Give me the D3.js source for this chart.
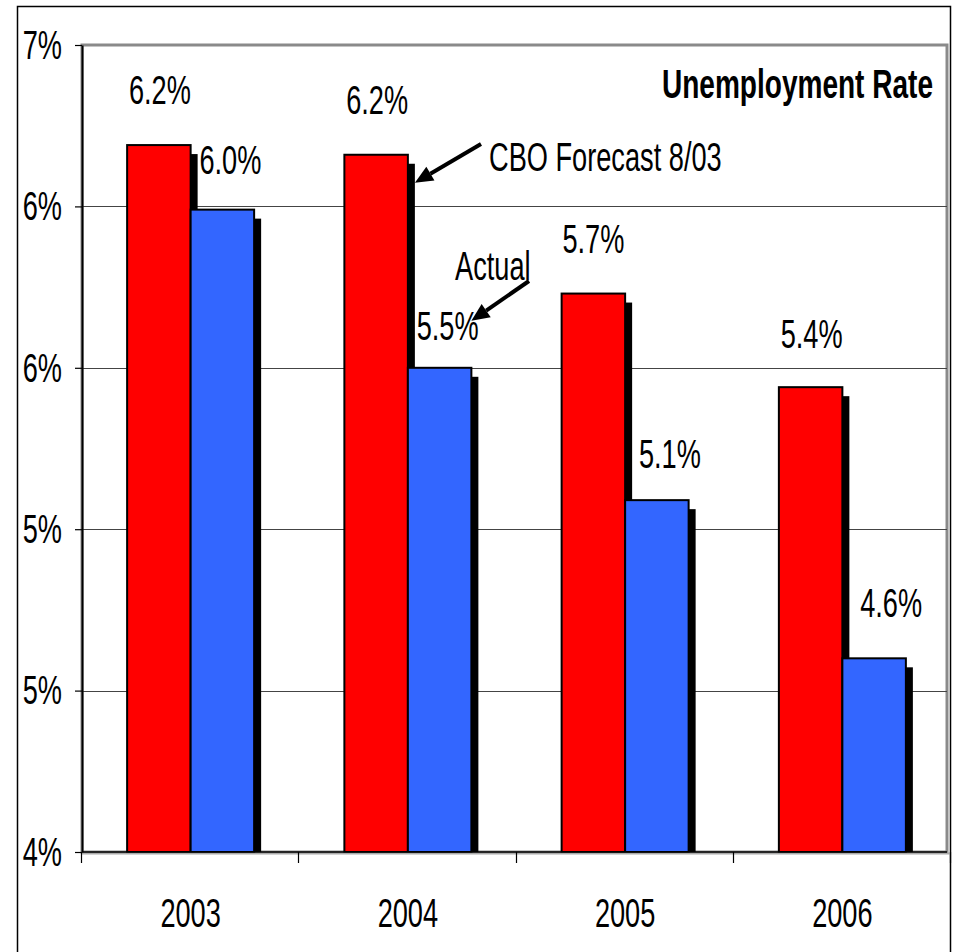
<!DOCTYPE html>
<html>
<head>
<meta charset="utf-8">
<script src="https://cdn.jsdelivr.net/npm/d3@7"></script>
<style>
  html, body { margin: 0; padding: 0; background: #fff; }
  svg { display: block; }
  text { font-family: "Liberation Sans", Arial, sans-serif; fill: #000; }
</style>
</head>
<body>
<svg id="chart" width="954" height="952"></svg>
<script>
// Unemployment rate: CBO forecast (Aug 2003) vs. actual
const years = ["2003", "2004", "2005", "2006"];
const seriesNames = ["CBO Forecast 8/03", "Actual"];
const forecast = [6.19, 6.16, 5.73, 5.44];
const actual = [5.99, 5.50, 5.09, 4.60];
const yTicks = [4, 4.5, 5, 5.5, 6, 6.5];
const yTickLabels = ["4%", "5%", "5%", "6%", "6%", "7%"];
const chartTitle = "Unemployment Rate";

// ---- layout ----
const W = 954, H = 952;
const plot = { left: 82, right: 951, top: 45, bottom: 852 };
const squeeze = 0.68;            // narrow type
const fontSize = 40;
const colors = { "CBO Forecast 8/03": "#ff0000", "Actual": "#3366ff" };
const shadow = { dx: 7, dy: 9 };
// value label offsets from bar centre/top
const labelNudge = {
  "CBO Forecast 8/03": [[1, -41], [1, -41], [0, -41], [1, -39]],
  "Actual": [[8, -36], [8, -28], [13, -32], [17, -41]]
};

const rows = years.map((y, i) => ({ year: y, values: [
  { key: seriesNames[0], value: forecast[i], i },
  { key: seriesNames[1], value: actual[i], i }
]}));

const svg = d3.select("#chart");

const x0 = d3.scaleBand().domain(years)
  .range([plot.left, plot.right])
  .paddingInner(0.4154).paddingOuter(0.2077);
const x1 = d3.scaleBand().domain(seriesNames).range([0, x0.bandwidth()]);
const y = d3.scaleLinear().domain([4, 6.5]).range([plot.bottom, plot.top]);

function ctext(parent, x, yy, str, anchor, opts = {}) {
  return parent.append("text")
    .attr("transform", `translate(${x},${yy}) scale(${opts.sx || squeeze},1)`)
    .attr("text-anchor", anchor)
    .attr("font-size", opts.size || fontSize)
    .attr("font-weight", opts.weight || "normal")
    .text(str);
}

// outer frame
svg.append("rect")
  .attr("x", 17.5).attr("y", 6.5)
  .attr("width", 933).attr("height", 960)
  .attr("fill", "none").attr("stroke", "#000").attr("stroke-width", 1.5);

// plot area border
svg.append("rect")
  .attr("x", plot.left).attr("y", plot.top)
  .attr("width", plot.right - plot.left - 4).attr("height", plot.bottom - plot.top)
  .attr("fill", "#fff").attr("stroke", "#8a8a8a").attr("stroke-width", 3);

// gridlines
svg.append("g").selectAll("line")
  .data(yTicks.filter(t => t > 4 && t < 6.5))
  .join("line")
  .attr("x1", plot.left).attr("x2", plot.right - 4)
  .attr("y1", d => Math.round(y(d)) + 0.5).attr("y2", d => Math.round(y(d)) + 0.5)
  .attr("stroke", "#444").attr("stroke-width", 1);

// bars with drop shadows
const groups = svg.append("g").selectAll("g")
  .data(rows).join("g")
  .attr("transform", d => `translate(${x0(d.year)},0)`);

groups.each(function (row) {
  const g = d3.select(this);
  row.values.forEach(v => {
    const bx = x1(v.key), bw = x1.bandwidth(), top = y(v.value);
    g.append("rect")
      .attr("x", bx + shadow.dx).attr("y", top + shadow.dy)
      .attr("width", bw).attr("height", plot.bottom - top - shadow.dy)
      .attr("fill", "#000");
    g.append("rect")
      .attr("x", bx).attr("y", top)
      .attr("width", bw).attr("height", plot.bottom - top)
      .attr("fill", colors[v.key])
      .attr("stroke", "#000").attr("stroke-width", 2);
  });
});

// value labels
const fmt = d3.format(".1f");
rows.forEach(row => {
  row.values.forEach(v => {
    const nudge = labelNudge[v.key][v.i];
    const cx = x0(row.year) + x1(v.key) + x1.bandwidth() / 2 + nudge[0];
    ctext(svg, cx, y(v.value) + nudge[1], fmt(v.value) + "%", "middle");
  });
});

// y axis
const yAxis = d3.axisLeft(y).tickValues(yTicks)
  .tickFormat((d, i) => yTickLabels[i]).tickSize(7).tickSizeOuter(0);
const yg = svg.append("g").attr("transform", `translate(${plot.left},0)`).call(yAxis);
yg.select(".domain").attr("stroke", "#000").attr("stroke-width", 2);
yg.selectAll(".tick line").attr("stroke", "#000").attr("stroke-width", 1.2);
yg.selectAll(".tick text")
  .attr("font-size", fontSize)
  .attr("font-family", '"Liberation Sans", Arial, sans-serif')
  .attr("x", -20 / squeeze)
  .attr("dy", "0.33em")
  .attr("transform", `scale(${squeeze},1)`);

// x axis: line, ticks on category boundaries, year labels
const xb = d3.scaleLinear().domain([0, years.length]).range([plot.left, plot.right]);
const xg = svg.append("g");
xg.append("line")
  .attr("x1", plot.left).attr("x2", plot.right)
  .attr("y1", plot.bottom + 1.5).attr("y2", plot.bottom + 1.5)
  .attr("stroke", "#aaa").attr("stroke-width", 2);
xg.append("line")
  .attr("x1", plot.left).attr("x2", plot.right - 4)
  .attr("y1", plot.bottom).attr("y2", plot.bottom)
  .attr("stroke", "#000").attr("stroke-width", 1.5);
xg.selectAll("line.tk")
  .data(d3.range(years.length + 1)).join("line").attr("class", "tk")
  .attr("x1", d => Math.round(xb(d)) - 0.5).attr("x2", d => Math.round(xb(d)) - 0.5)
  .attr("y1", plot.bottom).attr("y2", plot.bottom + 11)
  .attr("stroke", "#000").attr("stroke-width", 1.2);
years.forEach(yr => {
  ctext(svg, x0(yr) + x0.bandwidth() / 2, 927, yr, "middle");
});

// title
ctext(svg, 933, 98, chartTitle, "end", { weight: "bold", size: 41, sx: 0.684 });

// annotations with arrows pointing at the 2004 bars
function arrow(x1a, y1a, x2a, y2a) {
  const ang = Math.atan2(y2a - y1a, x2a - x1a);
  const headLen = 18, headHalf = 8;
  const bx = x2a - headLen * Math.cos(ang), by = y2a - headLen * Math.sin(ang);
  svg.append("line")
    .attr("x1", x1a).attr("y1", y1a).attr("x2", bx).attr("y2", by)
    .attr("stroke", "#000").attr("stroke-width", 4);
  const px = -Math.sin(ang) * headHalf, py = Math.cos(ang) * headHalf;
  svg.append("path")
    .attr("d", `M${x2a},${y2a}L${bx + px},${by + py}L${bx - px},${by - py}Z`)
    .attr("fill", "#000");
}

const redRight = x0("2004") + x1(seriesNames[0]) + x1.bandwidth();
const blueRight = x0("2004") + x1(seriesNames[1]) + x1.bandwidth();
arrow(481, 144, redRight + shadow.dx, y(forecast[1]) + 28);
ctext(svg, 489, 171, seriesNames[0], "start");
arrow(529, 281, blueRight, y(actual[1]) - 47);
ctext(svg, 455, 280, seriesNames[1], "start");
</script>
</body>
</html>
